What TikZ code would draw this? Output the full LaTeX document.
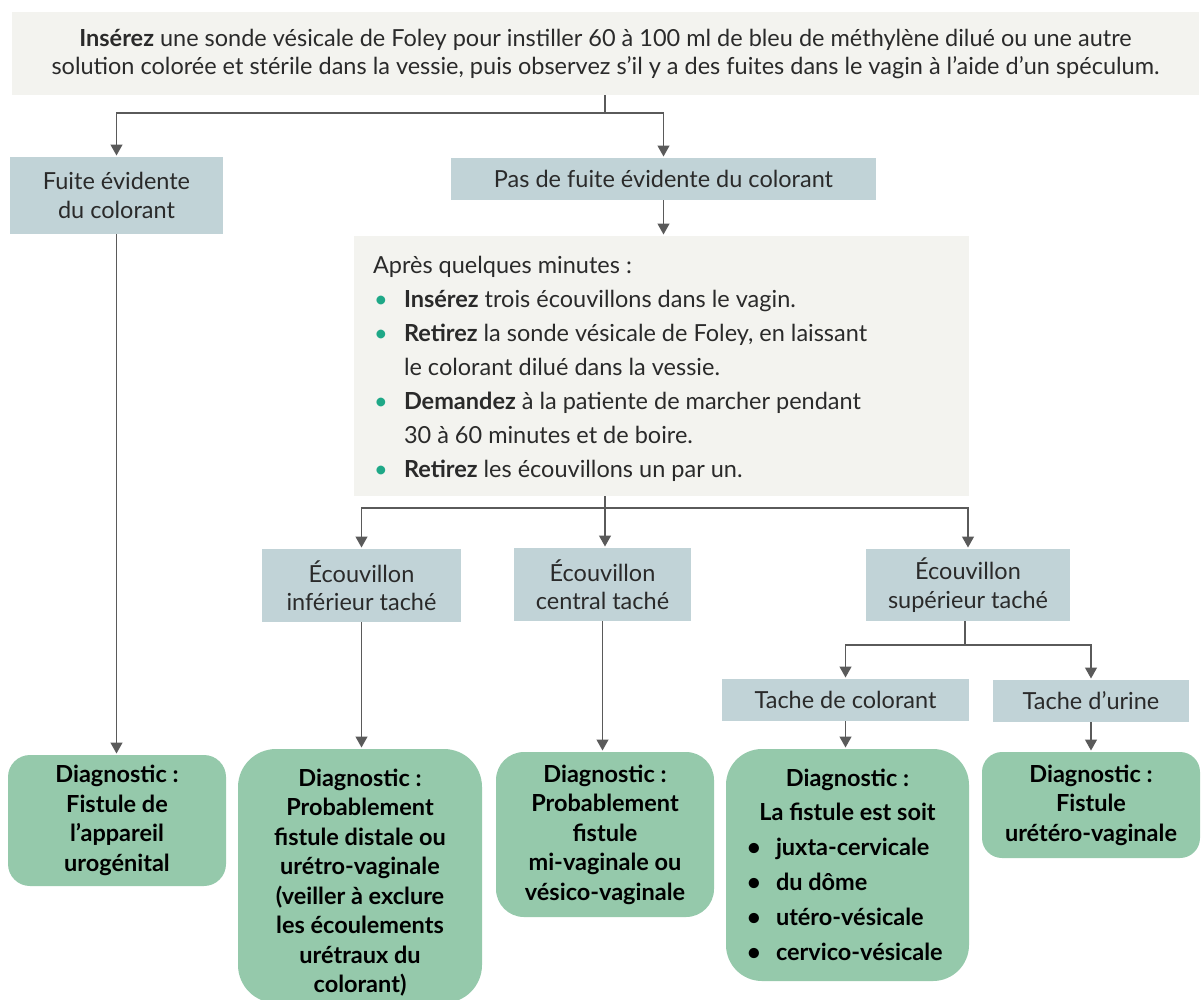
\documentclass[tikz,border=0pt]{standalone}
\usepackage{fontspec}
\setmainfont{Lato}
\usetikzlibrary{arrows.meta}
\definecolor{graybg}{HTML}{F3F3EF}
\definecolor{bluebox}{HTML}{C1D3D7}
\definecolor{greenbox}{HTML}{95C9AB}
\definecolor{arrowcol}{HTML}{5A5A5A}
\definecolor{bulcol}{HTML}{1EA887}
\definecolor{txtcol}{HTML}{2A2A2A}
\newcommand\lbul{\makebox[31pt][l]{\hspace{1pt}\textcolor{bulcol}{\textbullet}}}
\newcommand\dbul{\makebox[31pt][l]{\hspace{2pt}\textbullet}}
\begin{document}
\begin{tikzpicture}[x=1pt,y=-1pt,
  every node/.style={inner sep=0pt,outer sep=0pt},
  graybox/.style={fill=graybg,draw=none},
  bluebx/.style={fill=bluebox,draw=none,text=txtcol,align=center,font=\fontsize{23.5}{28.5}\selectfont},
  diagbox/.style={fill=greenbox,draw=none,align=center,font=\fontsize{23.5}{29.5}\selectfont\bfseries},
  lin/.style={draw=arrowcol,line width=1.3pt},
  arr/.style={lin,-{Triangle[width=12pt,length=11pt]},shorten >=1.5pt}
]
\useasboundingbox (0,0) rectangle (1201,999);
% top box
\node[graybox,minimum width=1187pt,minimum height=83pt,text=txtcol,align=center,font=\fontsize{23.5}{28}\selectfont] (top) at (605.5,53.5)
 {\textbf{Insérez} une sonde vésicale de Foley pour instiller 60 à 100 ml de bleu de méthylène dilué ou une autre\\
 solution colorée et stérile dans la vessie, puis observez s’il y a des fuites dans le vagin à l’aide d’un spéculum.};
% level 1
\node[bluebx,minimum width=213pt,minimum height=77pt] (fuite) at (116.5,195.5) {Fuite évidente\\du colorant};
\node[bluebx,minimum width=425pt,minimum height=42pt] (pas) at (663.5,179) {Pas de fuite évidente du colorant};
% apres box
\node[graybox,minimum width=615pt,minimum height=260pt] (apres) at (661.5,366) {};
\node[anchor=base west,align=left,text=txtcol,font=\fontsize{23.5}{34}\selectfont] (apt) at (373,477)
 {Après quelques minutes :\\
 \lbul\textbf{Insérez} trois écouvillons dans le vagin.\\
 \lbul\textbf{Retirez} la sonde vésicale de Foley, en laissant\\
 \hspace*{31pt}le colorant dilué dans la vessie.\\
 \lbul\textbf{Demandez} à la patiente de marcher pendant\\
 \hspace*{31pt}30 à 60 minutes et de boire.\\
 \lbul\textbf{Retirez} les écouvillons un par un.};
% swabs
\node[bluebx,minimum width=199pt,minimum height=73pt] (inf) at (361.5,585.5) {Écouvillon\\inférieur taché};
\node[bluebx,minimum width=177pt,minimum height=73pt] (cen) at (602.5,584.5) {Écouvillon\\central taché};
\node[bluebx,minimum width=204pt,minimum height=72pt] (sup) at (968,585) {Écouvillon\\supérieur taché};
\node[bluebx,minimum width=247pt,minimum height=42pt] (tcol) at (845.5,700) {Tache de colorant};
\node[bluebx,minimum width=196pt,minimum height=42pt] (turi) at (1091,701) {Tache d’urine};
% diagnostics
\node[diagbox,minimum width=218pt,minimum height=131pt,rounded corners=22pt] (d1) at (117,820.5)
 {Diagnostic :\\Fistule de\\l’appareil\\urogénital};
\node[diagbox,minimum width=244pt,minimum height=254pt,rounded corners=38pt,anchor=north] (d2) at (360,749) {};
\node[anchor=base,align=center,font=\fontsize{23.5}{29.5}\selectfont\bfseries] (d2t) at (360,992.5)
 {Diagnostic :\\Probablement\\fistule distale ou\\urétro-vaginale\\(veiller à exclure\\les écoulements\\urétraux du\\colorant)};
\node[diagbox,minimum width=218pt,minimum height=165pt,rounded corners=28pt] (d3) at (605,834.5)
 {Diagnostic :\\Probablement\\fistule\\mi-vaginale ou\\vésico-vaginale};
\node[diagbox,minimum width=243pt,minimum height=232pt,rounded corners=36pt] (d4) at (847.5,865) {};
\node[anchor=base,align=center,font=\fontsize{23.5}{34}\selectfont\bfseries] (d4t) at (847.5,820)
 {Diagnostic :\\La fistule est soit};
\node[anchor=base west,align=left,font=\fontsize{23.5}{35}\selectfont\bfseries] (d4l) at (745,960)
 {\dbul juxta-cervicale\\\dbul du dôme\\\dbul utéro-vésicale\\\dbul cervico-vésicale};
\node[diagbox,minimum width=218pt,minimum height=106pt,rounded corners=20pt] (d5) at (1091,805)
 {Diagnostic :\\Fistule\\urétéro-vaginale};
% connectors
\coordinate (b1) at (605,113);
\draw[lin] (top.south -| b1) -- (b1);
\draw[arr] (b1) -| (fuite.north);
\draw[arr] (b1) -| (pas.north);
\draw[arr] (pas.south) -- (pas.south |- apres.north);
\coordinate (b2) at (605,508);
\draw[lin] (apres.south -| b2) -- (b2);
\draw[arr] (b2) -| (inf.north);
\draw[arr] (b2) -- (b2 |- cen.north);
\draw[arr] (b2) -| (sup.north);
\draw[arr] (fuite.south) -- (fuite.south |- d1.north);
\draw[arr] (inf.south) -- (inf.south |- d2.north);
\draw[arr] (cen.south) -- (cen.south |- d3.north);
\coordinate (b3) at (965,645);
\draw[lin] (sup.south -| b3) -- (b3);
\draw[arr] (b3) -| (tcol.north);
\draw[arr] (b3) -| (turi.north);
\draw[arr] (tcol.south) -- (tcol.south |- d4.north);
\draw[arr] (turi.south) -- (turi.south |- d5.north);
\end{tikzpicture}
\end{document}
